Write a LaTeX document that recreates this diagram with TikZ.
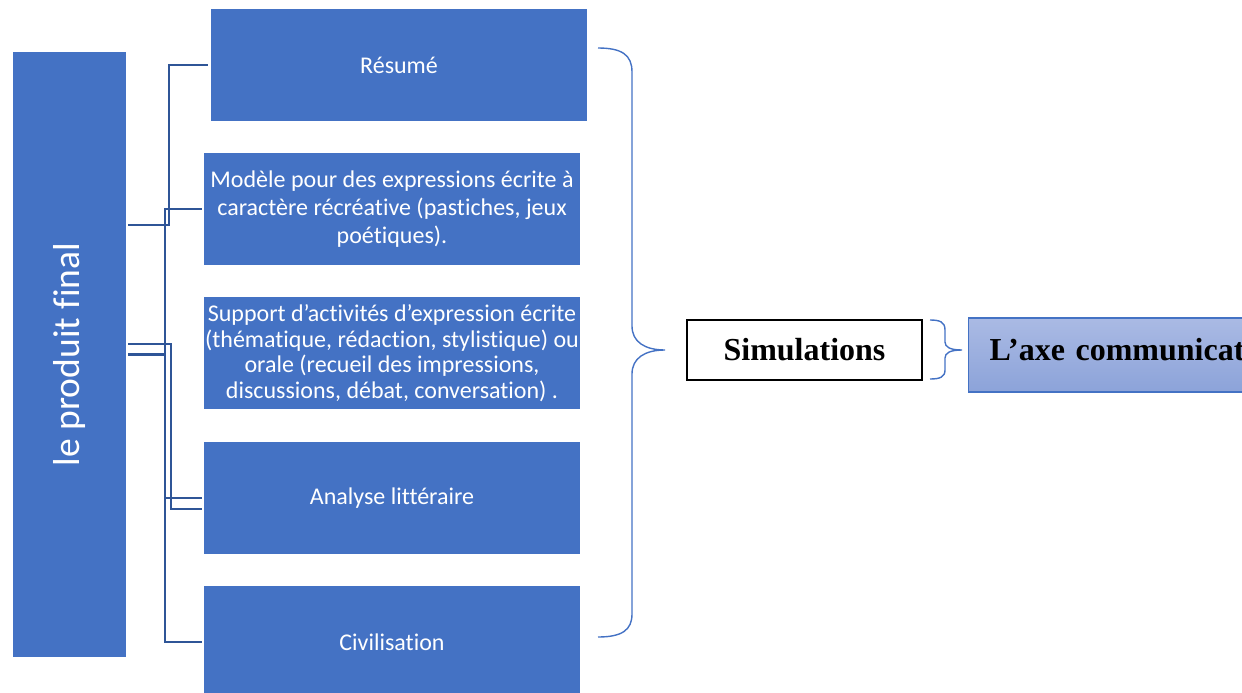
\documentclass[tikz,border=0pt]{standalone}
\usepackage{graphicx}
\usepackage{fontspec}
\setmainfont{Carlito}[Ligatures=NoCommon]
\newfontfamily\titlefont{Liberation Serif}
\usepackage{tikz}
\usepackage{xcolor}
\definecolor{boxblue}{HTML}{4472C4}
\definecolor{linkblue}{HTML}{2F5597}
\definecolor{axetop}{HTML}{AABAE4}
\definecolor{axebot}{HTML}{8CA3D9}
\tikzset{
    item/.style={fill=boxblue, text=white, minimum width=376pt, minimum height=112pt,
        inner sep=0pt, align=center, font=\fontsize{24}{28}\selectfont},
    link/.style={draw=linkblue, line width=2.5pt},
    brc/.style={draw=boxblue, line width=1.4pt},
    bigtitle/.style={font=\titlefont\bfseries\fontsize{32}{36}\selectfont}
}

\begin{document}
\begin{tikzpicture}[x=1pt, y=-1pt]
        \useasboundingbox (0, 0) rectangle (1242, 693);

        \node [fill=boxblue, text=white, minimum width=113pt, minimum height=605pt, inner sep=0pt,
            font=\fontsize{37.5}{42}\selectfont] (prod) at (69.5, 354.5) {\rotatebox{90}{le produit final}};
        \node [item] (resume) at (399, 65) {Résumé};
        \node [item] (modele) at (392, 209) {Modèle pour des expressions écrite à\\caractère récréative (pastiches, jeux\\poétiques).};
        \node [item, font=\fontsize{24}{25.5}\selectfont] (support) at (392, 353) {Support d’activités d’expression écrite\\(thématique, rédaction, stylistique) ou\\orale (recueil des impressions,\\discussions, débat, conversation) .};
        \node [item] (analyse) at (392, 498) {Analyse littéraire};
        \node [item] (civil) at (392, 642) {Civilisation};
        \node [bigtitle, draw=black, line width=1.3pt, fill=white, minimum width=235pt, minimum height=60pt] (simul) at (804.5, 350) {Simulations};
        \node [bigtitle, draw=boxblue, line width=1.3pt, top color=axetop, bottom color=axebot, anchor=west,
            minimum height=74pt, text width=300pt, text height=22pt, text depth=12pt, inner xsep=21pt,
            align=left] (axe) at (968, 355) {L’axe communicat};

        \coordinate (spine) at (165, 0);

        \draw [link] ([xshift=2pt, yshift=129.5pt]prod.east) -| ([xshift=-42pt]resume.west) -- ([xshift=-3pt]resume.west);
        \draw [link] ([xshift=-2pt]modele.west) -- (modele.west -| spine) |- ([xshift=-2pt]civil.west);
        \draw [link] ([xshift=2pt, yshift=10.5pt]prod.east) -| ([xshift=-33pt, yshift=-11pt]analyse.west) -- ([xshift=-2pt, yshift=-11pt]analyse.west);
        \draw [link] ([xshift=2pt]prod.east) -- (prod.east -| spine);
        \draw [link] (analyse.west -| spine) -- ([xshift=-2pt]analyse.west);

        \draw [brc] (598, 48) .. controls (622, 48) and (632, 55) .. (632, 72) -- (632, 326)
            .. controls (632, 342) and (645, 350) .. (665, 350)
            .. controls (645, 350) and (632, 358) .. (632, 374) -- (632, 614)
            .. controls (632, 630) and (622, 637) .. (598, 637);
        \draw [brc] (930, 320) .. controls (940, 320) and (945, 322) .. (945, 330) -- (945, 342)
            .. controls (945, 347) and (950, 350) .. (962, 350)
            .. controls (950, 350) and (945, 353) .. (945, 358) -- (945, 370)
            .. controls (945, 377) and (940, 379) .. (930, 379);
    \end{tikzpicture}
\end{document}
